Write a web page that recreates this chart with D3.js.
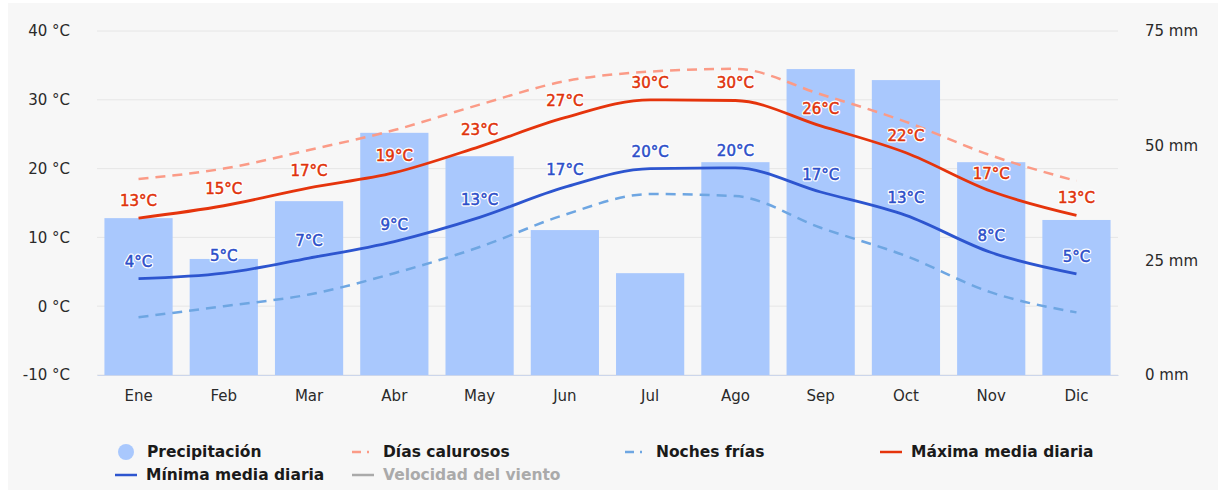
<!DOCTYPE html>
<html>
<head>
<meta charset="utf-8">
<script src="https://cdn.jsdelivr.net/npm/d3@7"></script>
<style>
  body { margin: 0; background: #fff; }
  text { font-family: "DejaVu Sans", sans-serif; }
</style>
</head>
<body>
<div id="chart"></div>
<script>
// Data
var months = ["Ene", "Feb", "Mar", "Abr", "May", "Jun", "Jul", "Ago", "Sep", "Oct", "Nov", "Dic"];
var precipitation = [34.2, 25.3, 37.9, 52.8, 47.7, 31.6, 22.2, 46.4, 66.7, 64.3, 46.4, 33.8];
var maxTemp = [12.8, 14.6, 17.2, 19.4, 23.2, 27.4, 30.0, 29.9, 26.2, 22.3, 16.7, 13.2];
var minTemp = [4.0, 4.8, 7.0, 9.4, 12.9, 17.3, 20.0, 20.1, 16.6, 13.2, 7.8, 4.7];
var hotDays = [18.5, 20.0, 22.7, 25.6, 29.3, 32.7, 34.1, 34.5, 30.8, 26.8, 21.9, 18.2];
var coldNights = [-1.6, 0.0, 1.7, 4.8, 8.6, 13.3, 16.3, 16.0, 11.4, 7.3, 2.0, -0.9];
var tempTicks = [-10, 0, 10, 20, 30, 40];
var rainTicks = [0, 25, 50, 75];

var width = 1224, height = 495;
var plotLeft = 97, plotRight = 1118, plotTop = 31, plotBottom = 375;

var svg = d3.select("#chart").append("svg")
    .attr("width", width)
    .attr("height", height);

svg.append("rect")
    .attr("x", 8).attr("y", 3)
    .attr("width", 1210).attr("height", 487)
    .attr("fill", "#f7f7f7");

var x = d3.scaleBand()
    .domain(months)
    .range([plotLeft, plotRight])
    .paddingInner(0.2)
    .paddingOuter(0.087);

var y = d3.scaleLinear().domain([-10, 40]).range([plotBottom, plotTop]);
var y2 = d3.scaleLinear().domain([0, 75]).range([plotBottom, plotTop]);

// grid lines
svg.append("g").selectAll("line")
    .data(tempTicks)
    .enter().append("line")
    .attr("x1", plotLeft).attr("x2", plotRight)
    .attr("y1", function(d) { return y(d); })
    .attr("y2", function(d) { return y(d); })
    .attr("stroke", "#e6e6e6")
    .attr("stroke-width", 1);

// left axis
var leftAxis = svg.append("g")
    .attr("transform", "translate(" + (plotLeft - 24) + ",0)")
    .call(d3.axisLeft(y).tickValues(tempTicks).tickSize(0).tickFormat(function(d) { return d + " °C"; }));
leftAxis.select(".domain").remove();
leftAxis.selectAll("text").attr("font-size", "15px").attr("fill", "#2a2a2a").attr("font-family", "DejaVu Sans");

// right axis
var rightAxis = svg.append("g")
    .attr("transform", "translate(" + (plotRight + 24) + ",0)")
    .call(d3.axisRight(y2).tickValues(rainTicks).tickSize(0).tickFormat(function(d) { return d + " mm"; }));
rightAxis.select(".domain").remove();
rightAxis.selectAll("text").attr("font-size", "15px").attr("fill", "#2a2a2a").attr("font-family", "DejaVu Sans");

// bars
svg.append("g").selectAll("rect")
    .data(precipitation)
    .enter().append("rect")
    .attr("x", function(d, i) { return x(months[i]); })
    .attr("y", function(d) { return y2(d); })
    .attr("width", x.bandwidth())
    .attr("height", function(d) { return plotBottom - y2(d); })
    .attr("fill", "#a9c8fd");

// x axis
var xAxis = svg.append("g")
    .attr("transform", "translate(0," + plotBottom + ")")
    .call(d3.axisBottom(x).tickSize(0).tickPadding(15));
xAxis.select(".domain").attr("stroke", "#ccd6eb");
xAxis.selectAll("text").attr("font-size", "15px").attr("fill", "#2a2a2a").attr("font-family", "DejaVu Sans");

function cx(i) { return x(months[i]) + x.bandwidth() / 2; }

var line = d3.line()
    .x(function(d, i) { return cx(i); })
    .y(function(d) { return y(d); })
    .curve(d3.curveMonotoneX);

svg.append("path").datum(coldNights)
    .attr("d", line).attr("fill", "none")
    .attr("stroke", "#6ea6e2").attr("stroke-width", 2.5)
    .attr("stroke-dasharray", "10,7");

svg.append("path").datum(hotDays)
    .attr("d", line).attr("fill", "none")
    .attr("stroke", "#fb9b87").attr("stroke-width", 2.5)
    .attr("stroke-dasharray", "10,7");

svg.append("path").datum(minTemp)
    .attr("d", line).attr("fill", "none")
    .attr("stroke", "#2d55cf").attr("stroke-width", 2.8);

svg.append("path").datum(maxTemp)
    .attr("d", line).attr("fill", "none")
    .attr("stroke", "#e5340c").attr("stroke-width", 2.8);

function labels(values, color) {
    var g = svg.append("g");
    g.selectAll("text.halo")
        .data(values)
        .enter().append("text")
        .attr("class", "halo")
        .attr("x", function(d, i) { return cx(i); })
        .attr("y", function(d) { return y(d) - 12; })
        .attr("text-anchor", "middle")
        .attr("font-size", "15px")
        .attr("stroke", "#fff")
        .attr("stroke-width", 3)
        .attr("stroke-linejoin", "round")
        .attr("fill", "#fff")
        .text(function(d) { return Math.round(d) + "°C"; });
    g.selectAll("text.lab")
        .data(values)
        .enter().append("text")
        .attr("class", "lab")
        .attr("x", function(d, i) { return cx(i); })
        .attr("y", function(d) { return y(d) - 12; })
        .attr("text-anchor", "middle")
        .attr("font-size", "15px")
        .attr("fill", color)
        .attr("stroke", color)
        .attr("stroke-width", 0.5)
        .text(function(d) { return Math.round(d) + "°C"; });
}
labels(maxTemp, "#e0330b");
labels(minTemp, "#2d4fc9");

// legend
var legendItems = [
    { name: "Precipitación", type: "circle", color: "#a9c8fd", x: 117, y: 452, text: "#1a1a1a" },
    { name: "Días calurosos", type: "dash", color: "#fb9b87", x: 352, y: 452, text: "#1a1a1a" },
    { name: "Noches frías", type: "dash", color: "#6ea6e2", x: 625, y: 452, text: "#1a1a1a" },
    { name: "Máxima media diaria", type: "line", color: "#e5340c", x: 880, y: 452, text: "#1a1a1a" },
    { name: "Mínima media diaria", type: "line", color: "#2d55cf", x: 115, y: 475, text: "#1a1a1a" },
    { name: "Velocidad del viento", type: "line", color: "#aaaaaa", x: 352, y: 475, text: "#aaaaaa" }
];

var leg = svg.append("g").selectAll("g")
    .data(legendItems)
    .enter().append("g")
    .attr("transform", function(d) { return "translate(" + d.x + "," + d.y + ")"; });

leg.filter(function(d) { return d.type === "circle"; })
    .append("circle")
    .attr("cx", 9).attr("cy", 0).attr("r", 8)
    .attr("fill", function(d) { return d.color; });

leg.filter(function(d) { return d.type !== "circle"; })
    .append("line")
    .attr("x1", 0).attr("x2", 22)
    .attr("y1", 0).attr("y2", 0)
    .attr("stroke", function(d) { return d.color; })
    .attr("stroke-width", 2.5)
    .attr("stroke-dasharray", function(d) { return d.type === "dash" ? "9,6,2,6" : null; });

leg.append("text")
    .attr("x", function(d) { return d.type === "circle" ? 30 : 31; })
    .attr("y", 0)
    .attr("dy", "0.35em")
    .attr("font-size", "15.5px")
    .attr("font-weight", "bold")
    .attr("fill", function(d) { return d.text; })
    .text(function(d) { return d.name; });
</script>
</body>
</html>
